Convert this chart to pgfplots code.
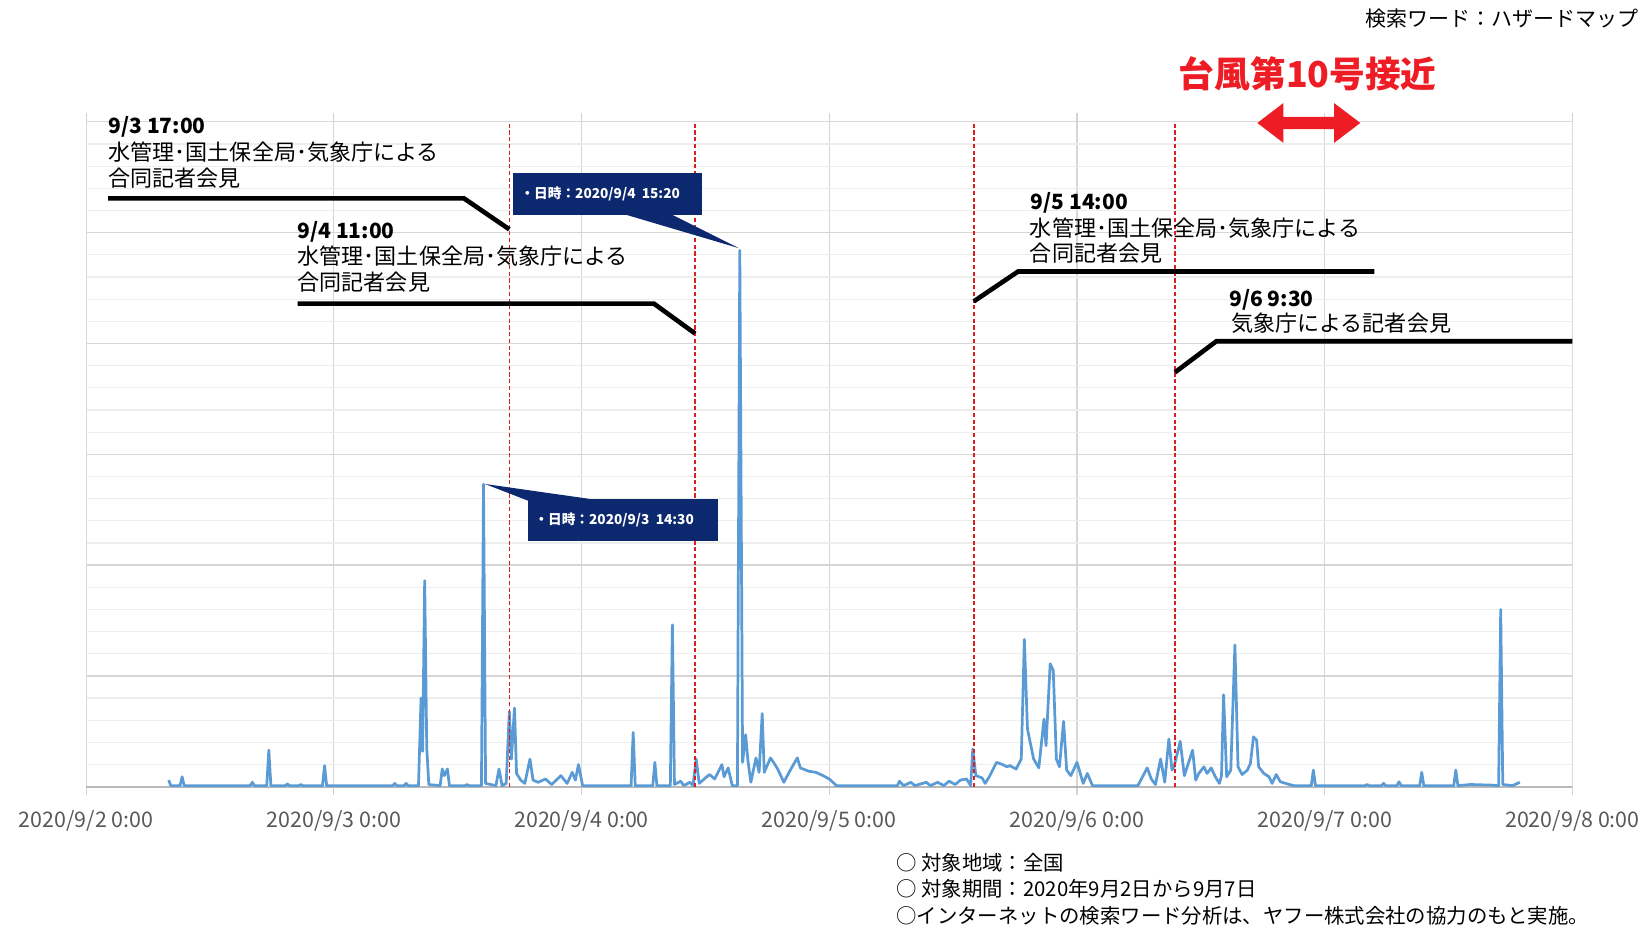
\documentclass[border=0pt]{standalone}
\usepackage{pgfplots}
\pgfplotsset{compat=1.18}
\usepackage{fontspec}
\setmainfont{Noto Sans CJK JP}

\definecolor{lineblue}{HTML}{5B9BD5}
\definecolor{calloutnavy}{RGB}{12,40,110}
\definecolor{alertred}{RGB}{238,28,37}
\definecolor{eventred}{RGB}{220,30,30}
\definecolor{ticktext}{HTML}{595959}

% search volume, hours counted from 2020/9/2 0:00
\pgfplotstableread{
h v
8.0 0.6
8.2 0.1
9.1 0.1
9.3 0.9
9.5 0.1
15.9 0.1
16.1 0.4
16.3 0.1
17.5 0.1
17.7 3.3
17.9 0.1
19.3 0.1
19.5 0.25
19.7 0.1
20.6 0.1
20.8 0.2
21.0 0.1
22.9 0.1
23.1 1.9
23.3 0.1
29.7 0.1
29.9 0.3
30.1 0.1
30.8 0.1
31.0 0.3
31.2 0.1
32.2 0.1
32.45 8.0
32.6 3.2
32.8 18.6
33.0 3.5
33.2 0.2
34.3 0.1
34.5 1.6
34.7 1.0
35.0 1.6
35.2 0.1
36.7 0.1
36.9 0.2
37.1 0.1
38.3 0.1
38.5 27.3
38.7 0.3
39.7 0.1
40.0 1.6
40.3 0.1
40.7 0.3
41.0 6.8
41.2 2.5
41.5 7.1
41.7 1.2
42.1 0.6
42.5 0.3
43.0 2.5
43.3 0.6
43.8 0.4
44.5 0.7
45.1 0.2
46.0 1.0
46.6 0.3
47.1 1.3
47.4 0.6
47.7 2.0
48.1 0.1
52.8 0.1
53.0 4.9
53.2 0.1
54.9 0.1
55.1 2.2
55.3 0.1
56.6 0.1
56.8 14.6
57.0 0.2
57.6 0.5
57.9 0.1
58.5 0.4
58.8 0.1
59.1 2.5
59.4 0.3
60.0 0.8
60.4 1.1
60.9 0.7
61.6 2.0
61.8 0.9
62.2 1.7
62.6 0.1
63.1 0.1
63.33 48.4
63.6 2.2
63.9 4.7
64.1 2.5
64.4 0.4
64.9 2.6
65.2 1.3
65.5 6.6
65.7 1.3
66.3 2.6
66.6 2.2
67.0 1.6
67.6 0.4
68.1 1.3
68.9 2.6
69.2 1.7
70.0 1.4
70.7 1.3
71.4 1.0
72.0 0.7
72.7 0.1
78.6 0.1
78.8 0.5
79.2 0.1
79.9 0.4
80.3 0.1
81.4 0.4
81.8 0.1
82.5 0.4
83.1 0.1
83.6 0.5
84.2 0.2
84.7 0.6
85.3 0.7
85.7 0.1
85.9 3.4
86.2 1.0
86.8 0.8
87.1 0.3
87.5 0.9
88.2 2.2
88.8 2.0
89.2 1.8
89.5 1.9
90.1 1.6
90.6 2.5
90.9 13.3
91.2 5.2
91.8 2.5
92.3 1.7
92.8 6.1
93.0 3.7
93.4 11.1
93.7 10.5
94.0 2.5
94.3 1.8
94.7 5.9
95.0 1.5
95.4 1.0
96.0 2.2
96.6 0.3
97.0 1.2
97.5 0.1
101.9 0.1
102.8 1.7
103.2 0.7
103.6 0.2
104.1 2.5
104.5 0.4
104.9 4.3
105.2 1.5
105.4 1.8
106.0 4.1
106.4 1.0
107.2 3.3
107.5 0.6
107.8 1.2
108.3 1.8
108.6 1.2
109.0 1.7
109.4 0.9
109.8 0.3
110.0 1.0
110.2 8.3
110.5 0.9
110.9 1.5
111.3 12.8
111.6 1.8
112.0 1.1
112.5 1.5
112.8 2.1
113.1 4.5
113.4 4.2
113.6 1.8
114.1 1.2
114.6 0.9
114.9 0.3
115.3 1.1
115.7 0.45
116.4 0.25
117.0 0.1
118.7 0.1
118.9 1.5
119.1 0.1
123.9 0.1
124.1 0.2
124.3 0.1
125.5 0.1
125.7 0.3
125.9 0.1
127.0 0.1
127.2 0.45
127.4 0.1
129.2 0.1
129.4 1.3
129.6 0.1
132.5 0.1
132.7 1.5
132.9 0.1
134.1 0.2
136.1 0.15
136.85 0.1
137.05 16.0
137.25 0.2
138.2 0.1
138.9 0.4
}\searchdata

\newcommand{\annofont}{\fontsize{10.5bp}{12.75bp}\selectfont}
\newcommand{\datefont}{\fontsize{10bp}{12bp}\selectfont\bfseries}
\newcommand{\notefont}{\fontsize{9.7bp}{12.75bp}\selectfont}

\begin{document}
\begin{tikzpicture}
\path[use as bounding box] (0,0) rectangle (784bp,442bp);
\begin{axis}[
  at={(41bp,67.5bp)}, anchor=south west,
  scale only axis, width=707.5bp, height=316.5bp,
  xmin=0, xmax=144, ymin=0, ymax=60,
  xtick={0,24,...,144},
  xticklabels={2020/9/2 0:00,2020/9/3 0:00,2020/9/4 0:00,2020/9/5 0:00,2020/9/6 0:00,2020/9/7 0:00,2020/9/8 0:00},
  ytick={0,10,...,60}, yticklabels={},
  minor y tick num=4,
  grid=both,
  major grid style={draw=gray!32, line width=0.6bp},
  minor grid style={draw=gray!14, line width=0.6bp},
  axis line style={draw=gray!30, line width=0.6bp},
  tick align=outside,
  major tick length=4bp,
  xtick style={draw=gray!35, line width=0.6bp},
  ytick style={draw=none},
  xticklabel style={font=\fontsize{10.2bp}{12bp}\selectfont, text=ticktext, anchor=base, yshift=-15.5bp},
  clip=false,
]
% baseline
\draw[gray!55, line width=0.8bp] (axis cs:0,0) -- (axis cs:144,0);

\addplot[lineblue, line width=1.3bp, line join=round] table[x=h, y=v] {\searchdata};

% press conference times
\draw[eventred, line width=0.75bp, dash pattern=on 2bp off 1.2bp] (axis cs:41,0) -- (axis cs:41,60);
\draw[eventred, line width=0.75bp, dash pattern=on 2bp off 1.2bp] (axis cs:59,0) -- (axis cs:59,60);
\draw[eventred, line width=0.75bp, dash pattern=on 2bp off 1.2bp] (axis cs:86,0) -- (axis cs:86,60);
\draw[eventred, line width=0.75bp, dash pattern=on 2bp off 1.2bp] (axis cs:105.5,0) -- (axis cs:105.5,60);

% leader lines
\draw[black, line width=2.2bp] (axis cs:2.14,53.1) -- (axis cs:36.6,53.1) -- (axis cs:41,50.3);
\draw[black, line width=2.2bp] (axis cs:20.5,43.6) -- (axis cs:55.0,43.6) -- (axis cs:59,40.9);
\draw[black, line width=2.2bp] (axis cs:86,43.8) -- (axis cs:90.3,46.5) -- (axis cs:124.8,46.5);
\draw[black, line width=2.2bp] (axis cs:105.5,37.4) -- (axis cs:109.5,40.2) -- (axis cs:144,40.2);

% annotation texts
\node[anchor=west, inner sep=0pt, font=\datefont] at (axis cs:2.14,59.55) {9/3 17:00};
\node[anchor=west, inner sep=0pt, font=\annofont] at (axis cs:2.14,57.25) {水管理･国土保全局･気象庁による};
\node[anchor=west, inner sep=0pt, font=\annofont] at (axis cs:2.14,54.88) {合同記者会見};

\node[anchor=west, inner sep=0pt, font=\datefont] at (axis cs:20.46,50.1) {9/4 11:00};
\node[anchor=west, inner sep=0pt, font=\annofont] at (axis cs:20.46,47.87) {水管理･国土保全局･気象庁による};
\node[anchor=west, inner sep=0pt, font=\annofont] at (axis cs:20.46,45.50) {合同記者会見};

\node[anchor=west, inner sep=0pt, font=\datefont] at (axis cs:91.49,52.65) {9/5 14:00};
\node[anchor=west, inner sep=0pt, font=\annofont] at (axis cs:91.40,50.43) {水管理･国土保全局･気象庁による};
\node[anchor=west, inner sep=0pt, font=\annofont] at (axis cs:91.40,48.15) {合同記者会見};

\node[anchor=west, inner sep=0pt, font=\datefont] at (axis cs:110.73,43.95) {9/6 9:30};
\node[anchor=west, inner sep=0pt, font=\annofont] at (axis cs:110.9,41.80) {気象庁による記者会見};

% data callouts
\fill[calloutnavy] (axis cs:52.0,51.7) -- (axis cs:63.25,48.6) -- (axis cs:56.6,51.7) -- cycle;
\fill[calloutnavy] (axis cs:41.39,51.59) rectangle (axis cs:59.70,55.36);
\node[anchor=west, inner sep=0pt, text=white, font=\fontsize{6.5bp}{8bp}\selectfont\bfseries] at (axis cs:42.05,53.47) {・日時：2020/9/4\ \ 15:20};

\fill[calloutnavy] (axis cs:42.85,25.8) -- (axis cs:38.64,27.32) -- (axis cs:50.1,25.8) -- cycle;
\fill[calloutnavy] (axis cs:42.85,22.18) rectangle (axis cs:61.25,25.94);
\node[anchor=west, inner sep=0pt, text=white, font=\fontsize{6.5bp}{8bp}\selectfont\bfseries] at (axis cs:43.4,24.06) {・日時：2020/9/3\ \ 14:30};

% headings
\node[anchor=east, inner sep=0pt, font=\fontsize{10bp}{12bp}\selectfont] at (axis cs:150.42,69.29) {検索ワード：ハザードマップ};
\node[inner sep=0pt, text=alertred, font=\fontsize{17bp}{20bp}\selectfont\bfseries] at (axis cs:118.36,64.36) {台風第10号接近};
\fill[alertred] (axis cs:113.47,59.9) -- (axis cs:116.0,61.7) -- (axis cs:116.0,60.45) -- (axis cs:120.9,60.45)
  -- (axis cs:120.9,61.7) -- (axis cs:123.45,59.9) -- (axis cs:120.9,58.1) -- (axis cs:120.9,59.35)
  -- (axis cs:116.0,59.35) -- (axis cs:116.0,58.1) -- cycle;

% notes
\node[anchor=west, inner sep=0pt, font=\notefont] at (axis cs:78.47,-6.82) {○ 対象地域：全国};
\node[anchor=west, inner sep=0pt, font=\notefont] at (axis cs:78.47,-9.19) {○ 対象期間：2020年9月2日から9月7日};
\node[anchor=west, inner sep=0pt, font=\notefont] at (axis cs:78.47,-11.66) {○インターネットの検索ワード分析は、ヤフー株式会社の協力のもと実施。};
\end{axis}
\end{tikzpicture}
\end{document}
